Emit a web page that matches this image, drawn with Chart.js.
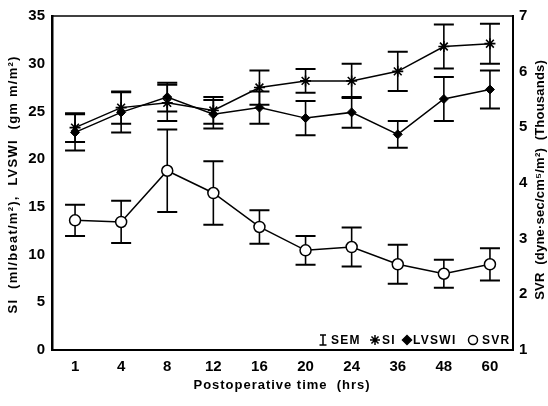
<!DOCTYPE html>
<html>
<head>
<meta charset="utf-8">
<script src="https://cdn.jsdelivr.net/npm/chart.js@4/dist/chart.umd.min.js"></script>
<style>
  html, body { margin: 0; padding: 0; background: #fff; }
  #wrap { width: 548px; height: 406px; position: relative; }
</style>
</head>
<body>
<div id="wrap"><canvas id="c" width="548" height="406"></canvas></div>
<script>
// ---- Data ----
const HOURS = ['1', '4', '8', '12', '16', '20', '24', '36', '48', '60'];
const SI_MEAN    = [23.3, 25.4, 25.9, 25.1, 27.5, 28.2, 28.2, 29.2, 31.8, 32.1];
const SI_SEM     = [1.5, 1.7, 1.9, 1.4, 1.8, 1.25, 1.8, 2.05, 2.3, 2.1];
const LVSWI_MEAN = [22.8, 24.9, 26.5, 24.7, 25.4, 24.3, 24.9, 22.6, 26.3, 27.3];
const LVSWI_SEM  = [1.9, 2.1, 1.5, 1.5, 1.7, 1.8, 1.6, 1.4, 2.3, 2.0];
const SVR_MEAN   = [3.33, 3.30, 4.22, 3.82, 3.21, 2.79, 2.85, 2.54, 2.37, 2.54];
const SVR_SEM    = [0.28, 0.38, 0.74, 0.57, 0.30, 0.26, 0.35, 0.35, 0.25, 0.29];
const LEFT_TICKS  = [0, 5, 10, 15, 20, 25, 30, 35];
const RIGHT_TICKS = [1, 2, 3, 4, 5, 6, 7];

const X_TITLE = 'Postoperative time  (hrs)';
const Y_TITLE = 'SI  (ml/beat/m²),  LVSWI  (gm m/m²)';
const Y1_TITLE = 'SVR  (dyne·sec/cm⁵/m²)  (Thousands)';

const FONT = '"Liberation Sans", Arial, Helvetica, sans-serif';

// Error bars drawn through the chart's scales
const errorBars = {
  id: 'errorBars',
  beforeDatasetsDraw(chart) {
    const ctx = chart.ctx;
    const xs = chart.scales.x;
    chart.data.datasets.forEach((ds) => {
      if (!ds.sem) return;
      const ys = chart.scales[ds.yAxisID];
      ctx.save();
      ctx.strokeStyle = '#000';
      ds.data.forEach((v, i) => {
        const x = xs.getPixelForValue(i);
        const yt = ys.getPixelForValue(v + ds.sem[i]);
        const yb = ys.getPixelForValue(v - ds.sem[i]);
        ctx.lineWidth = 1.6;
        ctx.beginPath(); ctx.moveTo(x, yt); ctx.lineTo(x, yb); ctx.stroke();
        ctx.lineWidth = 2;
        ctx.beginPath();
        ctx.moveTo(x - 10, yt); ctx.lineTo(x + 10, yt);
        ctx.moveTo(x - 10, yb); ctx.lineTo(x + 10, yb);
        ctx.stroke();
      });
      ctx.restore();
    });
  }
};

function spacedText(ctx, text, x, y, rot, targetW) {
  ctx.save();
  ctx.translate(x, y);
  ctx.rotate(rot);
  ctx.font = 'bold 13px ' + FONT;
  ctx.fillStyle = '#000';
  ctx.textBaseline = 'middle';
  ctx.textAlign = 'center';
  try { ctx.letterSpacing = '0px'; } catch (e) {}
  const w = ctx.measureText(text).width;
  const sp = Math.max(0, (targetW - w) / text.length);
  try { ctx.letterSpacing = sp.toFixed(2) + 'px'; } catch (e) {}
  ctx.fillText(text, sp / 2, 0);
  ctx.restore();
}

// Frame top line, axis titles, in-plot legend
const extras = {
  id: 'extras',
  afterDraw(chart) {
    const ctx = chart.ctx;
    const a = chart.chartArea;
    ctx.save();
    // top frame line
    ctx.strokeStyle = '#000';
    ctx.lineWidth = 1.5;
    ctx.beginPath(); ctx.moveTo(a.left, a.top); ctx.lineTo(a.right, a.top); ctx.stroke();

    // axis titles
    spacedText(ctx, X_TITLE, (a.left + a.right) / 2 - 1, 385, 0, 177);
    spacedText(ctx, Y_TITLE, 13, 185, -Math.PI / 2, 258);
    spacedText(ctx, Y1_TITLE, 540, 180, -Math.PI / 2, 240);

    // legend
    const y = a.bottom - 10;
    const r = a.right;
    ctx.fillStyle = '#000';
    ctx.strokeStyle = '#000';
    ctx.font = 'bold 12px ' + FONT;
    ctx.textBaseline = 'middle';
    ctx.textAlign = 'left';
    try { ctx.letterSpacing = '1.3px'; } catch (e) {}
    // SEM icon (I-beam)
    const ix = r - 190;
    ctx.lineWidth = 1.5;
    ctx.beginPath();
    ctx.moveTo(ix, y - 5); ctx.lineTo(ix, y + 5);
    ctx.moveTo(ix - 3, y - 5); ctx.lineTo(ix + 3, y - 5);
    ctx.moveTo(ix - 3.5, y + 5); ctx.lineTo(ix + 3.5, y + 5);
    ctx.stroke();
    ctx.fillText('SEM', r - 182, y + 1);
    const H = Chart.helpers;
    H.drawPoint(ctx, {pointStyle: 'star', radius: 5, borderWidth: 1.6}, r - 138, y);
    ctx.fillText('SI', r - 131, y + 1);
    ctx.fillStyle = '#000';
    H.drawPoint(ctx, {pointStyle: 'rectRot', radius: 4.5, borderWidth: 1}, r - 106, y);
    ctx.fillText('LVSWI', r - 100, y + 1);
    ctx.fillStyle = '#fff';
    ctx.lineWidth = 1.5;
    H.drawPoint(ctx, {pointStyle: 'circle', radius: 4.5, borderWidth: 1.5}, r - 40, y);
    ctx.fillStyle = '#000';
    ctx.fillText('SVR', r - 31, y + 1);
    try { ctx.letterSpacing = '0px'; } catch (e) {}
    ctx.restore();
  }
};

new Chart(document.getElementById('c'), {
  type: 'line',
  data: {
    labels: HOURS,
    datasets: [
      {
        label: 'SI', data: SI_MEAN, sem: SI_SEM, yAxisID: 'y',
        borderColor: '#000', borderWidth: 1.5, backgroundColor: '#000',
        pointStyle: 'star', pointRadius: 5.5, pointBorderWidth: 1.6,
        pointBorderColor: '#000', tension: 0
      },
      {
        label: 'LVSWI', data: LVSWI_MEAN, sem: LVSWI_SEM, yAxisID: 'y',
        borderColor: '#000', borderWidth: 1.5, backgroundColor: '#000',
        pointStyle: 'rectRot', pointRadius: 4.5, pointBorderWidth: 1,
        pointBackgroundColor: '#000', pointBorderColor: '#000', tension: 0
      },
      {
        label: 'SVR', data: SVR_MEAN, sem: SVR_SEM, yAxisID: 'y1',
        borderColor: '#000', borderWidth: 1.5, backgroundColor: '#fff',
        pointStyle: 'circle', pointRadius: 5.5, pointBorderWidth: 1.5,
        pointBackgroundColor: '#fff', pointBorderColor: '#000', tension: 0
      }
    ]
  },
  options: {
    responsive: false,
    animation: false,
    devicePixelRatio: 1,
    layout: { padding: { top: 15, left: 0, right: 0, bottom: 0 } },
    plugins: { legend: { display: false }, tooltip: { enabled: false } },
    scales: {
      x: {
        type: 'category', offset: true,
        grid: { display: false, drawTicks: false },
        border: { display: true, color: '#000', width: 2 },
        ticks: { color: '#000', padding: 8, font: { family: FONT, size: 15, weight: 'bold' }, maxRotation: 0 },
        title: { display: false },
        afterFit(s) { s.height = 56; }
      },
      y: {
        position: 'left', min: 0, max: 35,
        afterBuildTicks(s) { s.ticks = LEFT_TICKS.map(v => ({ value: v })); },
        grid: { display: false, drawTicks: false },
        border: { display: true, color: '#000', width: 2.5 },
        ticks: { color: '#000', padding: 7, font: { family: FONT, size: 15, weight: 'bold' } },
        title: { display: false },
        afterFit(s) { s.width = 52; }
      },
      y1: {
        position: 'right', min: 1, max: 7,
        afterBuildTicks(s) { s.ticks = RIGHT_TICKS.map(v => ({ value: v })); },
        grid: { display: false, drawTicks: false },
        border: { display: true, color: '#000', width: 2 },
        ticks: { color: '#000', padding: 6, font: { family: FONT, size: 15, weight: 'bold' } },
        afterFit(s) { s.width = 35; }
      }
    }
  },
  plugins: [errorBars, extras]
});
</script>
</body>
</html>
